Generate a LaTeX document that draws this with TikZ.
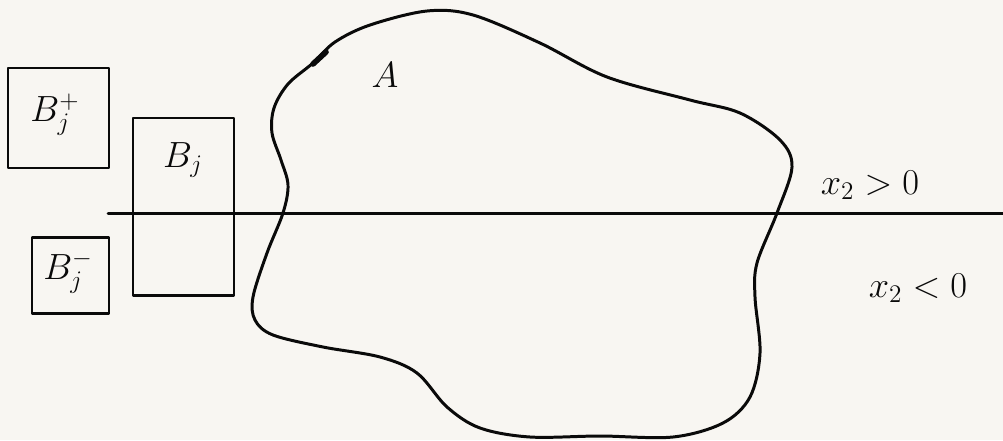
\documentclass[tikz,border=0pt]{standalone}
\usepackage{xcolor}
\definecolor{paper}{HTML}{F8F6F2}
\definecolor{ink}{HTML}{0A0A0A}
\begin{document}
\begin{tikzpicture}[x=0.02cm,y=-0.02cm,
  ink/.style={draw=ink,line width=1.7pt,line join=round,line cap=round},
  boxst/.style={ink},
  lbl/.style={text=ink,font=\fontsize{22}{26}\selectfont,inner sep=0pt}]
\fill[paper] (0,0) rectangle (1003,440);
\useasboundingbox (0,0) rectangle (1003,440);
% boxes
\draw[boxst] (8,68) rectangle (109,168);
\draw[boxst] (133,118) rectangle (234,295);
\draw[boxst] (32,237) rectangle (109,313);
% axis
\coordinate (axL) at (108,213);
\coordinate (axR) at (1003,213);
\draw[ink] (axL) -- (axR);
% region A
\draw[ink] plot[smooth cycle, tension=0.55] coordinates {
 (313,63) (335,42) (370,25) (427,11) (473,15) (540,43)
 (607,77) (690,100) (740,113) (780,140) (792,167) (777,213)
 (757,263) (755,297) (760,353) (750,397) (723,423) (673,437)
 (600,436) (530,437) (480,428) (447,407) (417,373) (380,357)
 (323,347) (273,335) (255,320) (253,297) (267,253) (283,213)
 (288,185) (281,160) (272,133) (274,108) (288,84)};
\draw[ink,line width=3.2pt] (313,64) -- (326,52);
% labels
\node[lbl] (A) at (385,75) {$A$};
\node[lbl] (bp) at (55,115) {$B_j^{+}$};
\node[lbl] (b) at (183,160) {$B_j$};
\node[lbl] (bm) at (68,272) {$B_j^{-}$};
\node[lbl] (pos) at (870,185) {$x_2>0$};
\node[lbl] (neg) at (918,288) {$x_2<0$};
\end{tikzpicture}
\end{document}
